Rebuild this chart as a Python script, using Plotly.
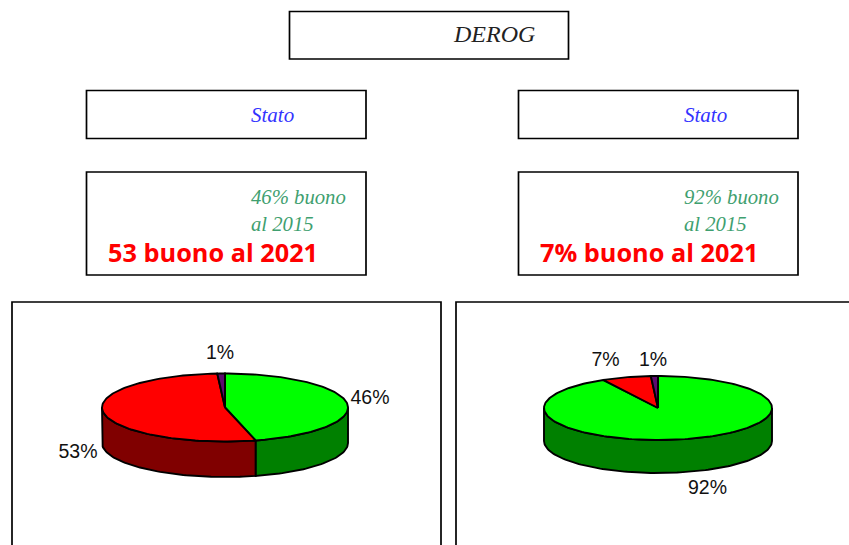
import numpy as np
import plotly.graph_objects as go

# --- data ---
categories = ["buono al 2015", "buono al 2021", "altro"]
left_values = [46, 53, 1]
right_values = [92, 7, 1]
title_text = "DEROG"
panel_heading = "Stato"
left_notes = ["46% buono", "al 2015", "53 buono al 2021"]
right_notes = ["92% buono", "al 2015", "7% buono al 2021"]

# --- styles ---
TOP = ["#00ff00", "#ff0000", "#5c0a6e"]
SIDE = ["#008000", "#800000", "#400050"]
SERIF = "Liberation Serif"
BLUE = "#3333ff"
GREEN = "#3f9f70"

fig = go.Figure()


def arc(cx, cy, rx, ry, a0, a1):
    n = max(2, int(abs(a1 - a0) / 1.5) + 2)
    t = np.radians(np.linspace(a0, a1, n))
    return cx + rx * np.sin(t), cy - ry * np.cos(t)


def add_poly(x, y, color):
    fig.add_trace(go.Scatter(
        x=list(x), y=list(y), mode="lines", fill="toself", fillcolor=color,
        line=dict(color="black", width=1.9), hoverinfo="skip", showlegend=False))


def pie3d(values, cx, cy, rx, ry, depth):
    total = sum(values)
    edges = np.cumsum([0] + values) / total * 360
    # side wall: only the front half of the rim (90 to 270 deg clockwise from top)
    for i in range(len(values)):
        a0, a1 = max(edges[i], 90), min(edges[i + 1], 270)
        if a1 > a0:
            xt, yt = arc(cx, cy, rx, ry, a0, a1)
            xb, yb = arc(cx, cy + depth, rx, ry, a1, a0)
            add_poly(np.r_[xt, xb, xt[0]], np.r_[yt, yb, yt[0]], SIDE[i])
    # top face
    for i in range(len(values)):
        xa, ya = arc(cx, cy, rx, ry, edges[i], edges[i + 1])
        add_poly(np.r_[cx, xa, cx], np.r_[cy, ya, cy], TOP[i])


pie3d(left_values, 225, 407.5, 123, 34, 35.5)
pie3d(right_values, 658, 408, 114, 32, 33)

# percentage labels
fig.add_trace(go.Scatter(
    x=[370, 78, 220, 707.5, 605.5, 653],
    y=[399.5, 453.5, 354.5, 489.5, 361.5, 361.5],
    text=[f"{v}%" for v in left_values + right_values],
    mode="text", textposition="middle center",
    textfont=dict(family="Liberation Sans", size=19.5, color="#111111"),
    hoverinfo="skip", showlegend=False))

# boxes
boxes = [
    (289.5, 11.5, 568.5, 59), (86.5, 90.5, 366, 138.5), (518.5, 90.5, 798, 138.5),
    (86.5, 172, 366, 275), (518.5, 172, 798, 275),
    (12, 302, 441, 600), (456, 302, 900, 600),
]
for x0, y0, x1, y1 in boxes:
    fig.add_shape(type="rect", x0=x0, y0=y0, x1=x1, y1=y1,
                  line=dict(color="black", width=1.7), layer="below")


def note(x, y, text, color, size, family=SERIF, italic=True, bold=False):
    fig.add_annotation(x=x, y=y, text=text, showarrow=False, xanchor="left", yanchor="middle",
                       xref="x", yref="y",
                       font=dict(family=family, size=size, color=color,
                                 style="italic" if italic else "normal",
                                 weight="bold" if bold else "normal"))


note(451, 34, title_text, "#222222", 24)
for xs, xr, notes in ((249, 106, left_notes), (682, 538, right_notes)):
    note(xs, 115, panel_heading, BLUE, 21)
    note(xs, 197, notes[0], GREEN, 20.7)
    note(xs, 224, notes[1], GREEN, 20.7)
    note(xr, 252, notes[2], "#ff0000", 25.3, family="Open Sans", italic=False, bold=True)

fig.update_layout(
    width=849, height=545, margin=dict(l=0, r=0, t=0, b=0),
    paper_bgcolor="white", plot_bgcolor="white", showlegend=False,
    xaxis=dict(range=[0, 849], visible=False, fixedrange=True),
    yaxis=dict(range=[545, 0], visible=False, fixedrange=True),
)
fig.write_html("out.html", config={"displayModeBar": False},
               post_script="document.body.style.margin='0';document.body.style.overflow='hidden';")
